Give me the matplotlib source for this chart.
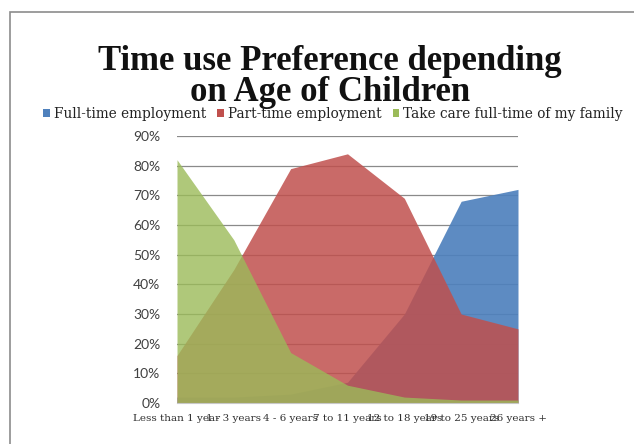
import matplotlib
matplotlib.use("Agg")
import matplotlib.pyplot as plt
from matplotlib.patches import Rectangle, Patch
from matplotlib.ticker import PercentFormatter

# Age groups of the youngest child
age_groups = ["Less than 1 year", "1 - 3 years", "4 - 6 years", "7 to 11 years",
              "12 to 18 years", "19 to 25 years", "26 years +"]

# Share of respondents preferring each time use (fraction of 1)
full_time = [0.02, 0.02, 0.03, 0.07, 0.30, 0.68, 0.72]
part_time = [0.16, 0.45, 0.79, 0.84, 0.69, 0.30, 0.25]
family_care = [0.82, 0.55, 0.17, 0.06, 0.02, 0.01, 0.01]

series_names = ["Full-time employment", "Part-time employment",
                "Take care full-time of my family"]
series_colors = ["#4F81BD", "#C0504D", "#9BBB59"]
series_alpha = [0.92, 0.85, 0.80]

y_ticks = [0.0, 0.1, 0.2, 0.3, 0.4, 0.5, 0.6, 0.7, 0.8, 0.9]

W, H = 634, 444
fig = plt.figure(figsize=(W / 100, H / 100), dpi=100)
fig.patch.set_facecolor("white")

# outer chart frame (runs off the right and bottom edges)
fig.patches.append(Rectangle((10 / W, -0.1), 1.2, (H - 12) / H + 0.1,
                             transform=fig.transFigure, fill=False,
                             edgecolor="#8c8c8c", linewidth=1.2))

ax = fig.add_axes([177 / W, (H - 403) / H, (518 - 177) / W, (403 - 136) / H])
x = list(range(len(age_groups)))

for vals, color, alpha in zip([full_time, part_time, family_care],
                              series_colors, series_alpha):
    ax.fill_between(x, 0, vals, color=color, alpha=alpha, linewidth=0, zorder=2)

ax.set_xlim(0, len(age_groups) - 1)
ax.set_ylim(0, 0.9)
ax.set_yticks(y_ticks)
ax.yaxis.set_major_formatter(PercentFormatter(1.0, decimals=0))
ax.grid(axis="y", color="#8a8a8a", linewidth=0.9, zorder=1)
ax.set_axisbelow(True)

for side in ["top", "right", "left"]:
    ax.spines[side].set_visible(False)
ax.spines["bottom"].set_color("#c8c8c8")

ax.tick_params(axis="both", length=0)
ax.tick_params(axis="y", pad=12, labelsize=10, labelcolor="#404040")
for lbl in ax.get_yticklabels():
    lbl.set_fontfamily("Lato")

# category labels are long and crowd one another along the axis
ax.set_xticks(x)
ax.set_xticklabels(age_groups, fontfamily="DejaVu Serif", fontsize=7.5,
                   color="#303030")
ax.tick_params(axis="x", pad=8)

title_font = dict(ha="center", va="baseline", fontfamily="Liberation Serif",
                  fontweight="bold", fontsize=25, color="#111111")
fig.text(330 / W, 1 - 70 / H, "Time use Preference depending", **title_font)
fig.text(330 / W, 1 - 101 / H, "on Age of Children", **title_font)

handles = [Patch(facecolor=c, edgecolor="none") for c in series_colors]
fig.legend(handles, series_names, loc="center", bbox_to_anchor=(333 / W, 1 - 114 / H),
           ncol=3, frameon=False, prop={"family": "DejaVu Serif", "size": 9.8},
           handlelength=0.5, handleheight=0.5, handletextpad=0.3,
           columnspacing=0.8, borderpad=0, labelcolor="#222222")

fig.savefig("out.png", dpi=100, facecolor="white")
